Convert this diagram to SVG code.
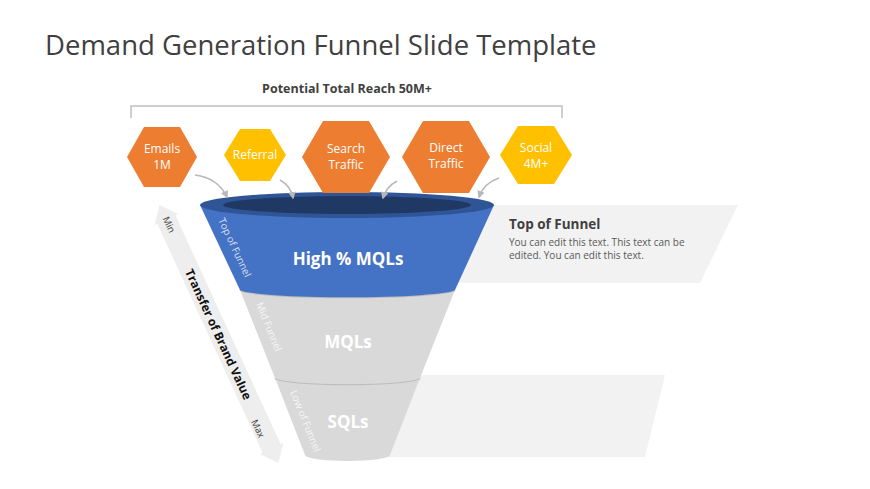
<svg xmlns="http://www.w3.org/2000/svg" width="870" height="489" viewBox="0 0 870 489">
<defs>
<style>
text{font-family:"Open Sans","Liberation Sans",sans-serif}
.hexo{fill:#ED7D31}.hexy{fill:#FFC000}
.ht{fill:#fff;font-size:12px;text-anchor:middle}
.con{fill:none;stroke:#b8b8b8;stroke-width:1.5}
.lbl{fill:#fff;font-size:10px;opacity:0.8}
.big{fill:#fff;font-size:17px;font-weight:bold;text-anchor:middle}
</style>
<marker id="ah" viewBox="0 0 10 10" refX="8" refY="5" markerWidth="5" markerHeight="5" orient="auto"><path d="M0,0L10,5L0,10z" fill="#b8b8b8"/></marker>
</defs>
<rect width="870" height="489" fill="#fff"/>
<text x="45" y="55" font-size="27.5" fill="#404040">Demand Generation Funnel Slide Template</text>
<g id="reach">
<path d="M131,118V106H562V118" fill="none" stroke="#bfbfbf" stroke-width="1.5"/>
<text x="347" y="93" font-size="12.5" font-weight="bold" fill="#404040" text-anchor="middle">Potential Total Reach 50M+</text>
</g>
<g id="panels">
<polygon points="470,205 738,205 700,283 455,283" fill="#f2f2f2"/>
<polygon points="400,375 665,375 645,457 380,457" fill="#f2f2f2"/>
</g>
<g id="brandArrow">
<g transform="translate(219,334) rotate(65.3)">
<polygon points="-142,0 -126,-13 -126,-10 126,-10 126,-13 142,0 126,13 126,10 -126,10 -126,13" fill="#eeeeee"/>
<text x="0" y="5" font-size="12" font-weight="bold" fill="#111" text-anchor="middle">Transfer of Brand Value</text>
</g>
<text transform="translate(166,226) rotate(65.3)" font-size="9.5" fill="#404040" text-anchor="middle">Min</text>
<text transform="translate(255,430) rotate(65.3)" font-size="9.5" fill="#404040" text-anchor="middle">Max</text>
</g>
<g id="low">
<path d="M275,378 L305,455 A42,6 0 0 0 390,455 L420,378 A73,7 0 0 1 275,378Z" fill="#d9d9d9"/>
<path d="M275,378 A73,7 0 0 0 420,378" fill="none" stroke="#bdbdbd" stroke-width="2"/>
<text class="big" x="348" y="428">SQLs</text>
<text class="lbl" transform="translate(290,392) rotate(68)">Low of Funnel</text>
</g>
<g id="mid">
<path d="M240,290 L275,378 A73,7 0 0 0 420,378 L455,290 A108,8 0 0 1 240,290Z" fill="#d9d9d9"/>
<path d="M240,290 A108,8 0 0 0 455,290" fill="none" stroke="#bdbdbd" stroke-width="2"/>
<text class="big" x="348" y="348">MQLs</text>
<text class="lbl" transform="translate(256,304) rotate(68)">Mid Funnel</text>
</g>
<g id="top">
<path d="M200,205 L240,290 A108,8 0 0 0 455,290 L494,205Z" fill="#4472C4"/>
<ellipse cx="347" cy="205" rx="147" ry="13" fill="#2F5597"/>
<ellipse cx="347" cy="205" rx="124" ry="9" fill="#203864"/>
<text class="big" x="348" y="265">High % MQLs</text>
<text class="lbl" transform="translate(218,220) rotate(65)">Top of Funnel</text>
</g>
<g id="desc">
<text x="509" y="229" font-size="13.5" font-weight="bold" fill="#404040">Top of Funnel</text>
<text x="509" y="246" font-size="10" fill="#595959">You can edit this text. This text can be</text>
<text x="509" y="259" font-size="10" fill="#595959">edited.  You can edit this text.</text>
</g>
<g id="emails"><polygon class="hexo" points="127,157 144,127 180,127 197,157 180,187 144,187"/><text class="ht" x="162" y="153">Emails</text><text class="ht" x="162" y="169">1M</text></g>
<g id="referral"><polygon class="hexy" points="224,155 240,129 270,129 286,155 270,181 240,181"/><text class="ht" x="255" y="159">Referral</text></g>
<g id="search"><polygon class="hexo" points="302,157 323,121 369,121 390,157 369,193 323,193"/><text class="ht" x="346" y="153">Search</text><text class="ht" x="346" y="169">Traffic</text></g>
<g id="direct"><polygon class="hexo" points="402,157 423,121 469,121 490,157 469,193 423,193"/><text class="ht" x="446" y="152">Direct</text><text class="ht" x="446" y="168">Traffic</text></g>
<g id="social"><polygon class="hexy" points="500,155 518,126 554,126 572,155 554,184 518,184"/><text class="ht" x="536" y="152">Social</text><text class="ht" x="536" y="168">4M+</text></g>
<g id="connectors">
<path class="con" d="M195,175 Q218,178 227,197" marker-end="url(#ah)"/>
<path class="con" d="M280,180 Q291,186 293,198" marker-end="url(#ah)"/>
<path class="con" d="M397,181 Q386,187 383,198" marker-end="url(#ah)"/>
<path class="con" d="M499,178 Q484,183 479,197" marker-end="url(#ah)"/>
</g>
</svg>
